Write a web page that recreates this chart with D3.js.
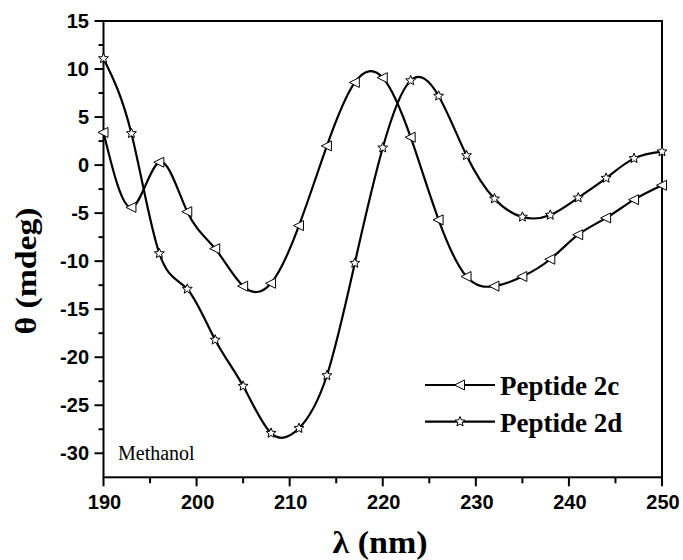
<!DOCTYPE html>
<html>
<head>
<meta charset="utf-8">
<script src="https://cdn.jsdelivr.net/npm/d3@7/dist/d3.min.js"></script>
<style>
  html, body { margin: 0; padding: 0; background: #fff; }
  svg { display: block; }
</style>
</head>
<body>
<svg id="chart" width="683" height="560"></svg>
<script>
// ---- data ----
const wavelengths = [190,193,196,199,202,205,208,211,214,217,220,223,226,229,232,235,238,241,244,247,250];
const peptide2c = [3.4,-4.4,0.3,-4.85,-8.7,-12.6,-12.3,-6.3,2.0,8.6,9.1,2.9,-5.7,-11.6,-12.6,-11.6,-9.8,-7.25,-5.5,-3.6,-2.1];
const peptide2d = [11.1,3.3,-9.2,-12.9,-18.2,-23.0,-27.9,-27.4,-21.9,-10.2,1.8,8.8,7.2,1.0,-3.5,-5.4,-5.2,-3.4,-1.35,0.7,1.4];
const seriesNames = ["Peptide 2c","Peptide 2d"];
const xTicks = [190,200,210,220,230,240,250];
const yTicks = [-30,-25,-20,-15,-10,-5,0,5,10,15];
const xLabel = "λ (nm)";
const yLabel = "θ (mdeg)";
const note = "Methanol";

// ---- layout ----
const svg = d3.select("#chart");
const L = 103.5, R = 662, T = 21, B = 477.3;
const x = d3.scaleLinear().domain([190,250]).range([L,R]);
const y = d3.scaleLinear().domain([-32.5,15]).range([B,T]);

// frame
svg.append("rect").attr("x",L).attr("y",T).attr("width",R-L).attr("height",B-T)
  .attr("fill","none").attr("stroke","#000").attr("stroke-width",2);

// x axis ticks
const xMinor = d3.range(195,250,10);
const gx = svg.append("g");
gx.selectAll("line.maj").data(xTicks).join("line")
  .attr("x1",d=>x(d)).attr("x2",d=>x(d)).attr("y1",B).attr("y2",B+9)
  .attr("stroke","#000").attr("stroke-width",2);
gx.selectAll("line.min").data(xMinor).join("line")
  .attr("x1",d=>x(d)).attr("x2",d=>x(d)).attr("y1",B).attr("y2",B+6)
  .attr("stroke","#000").attr("stroke-width",2);
gx.selectAll("text").data(xTicks).join("text")
  .attr("x",d=>x(d)+1).attr("y",508.5).attr("text-anchor","middle")
  .attr("font-family","'Liberation Sans', Arial, sans-serif").attr("font-weight","bold")
  .attr("font-size",20).text(d=>d);

// y axis ticks
const yMinor = d3.range(-27.5,15,5);
const gy = svg.append("g");
gy.selectAll("line.maj").data(yTicks).join("line")
  .attr("x1",L-9).attr("x2",L).attr("y1",d=>y(d)).attr("y2",d=>y(d))
  .attr("stroke","#000").attr("stroke-width",2);
gy.selectAll("line.min").data(yMinor).join("line")
  .attr("x1",L-5).attr("x2",L).attr("y1",d=>y(d)).attr("y2",d=>y(d))
  .attr("stroke","#000").attr("stroke-width",2);
gy.selectAll("text").data(yTicks).join("text")
  .attr("x",89).attr("y",d=>y(d)+7).attr("text-anchor","end")
  .attr("font-family","'Liberation Sans', Arial, sans-serif").attr("font-weight","bold")
  .attr("font-size",20).text(d=>d);

// axis titles
svg.append("text").attr("x",380).attr("y",553).attr("text-anchor","middle")
  .attr("font-family","'Liberation Serif', 'Times New Roman', serif").attr("font-weight","bold")
  .attr("font-size",31).attr("textLength",95).attr("lengthAdjust","spacingAndGlyphs").text(xLabel);
svg.append("text").attr("transform","translate(36,271) rotate(-90)").attr("text-anchor","middle")
  .attr("font-family","'Liberation Serif', 'Times New Roman', serif").attr("font-weight","bold")
  .attr("font-size",30).attr("textLength",127).attr("lengthAdjust","spacingAndGlyphs").text(yLabel);

// note
svg.append("text").attr("x",118).attr("y",459.5)
  .attr("font-family","'Liberation Serif', 'Times New Roman', serif")
  .attr("font-size",20).text(note);

// marker paths
const triPath = "M-5.5,0L4.5,-5L4.5,5Z";
function starPath(ro, ri){
  let p = [];
  for (let i=0;i<10;i++){
    const r = i%2===0 ? ro : ri;
    const a = -Math.PI/2 + i*Math.PI/5;
    p.push([r*Math.cos(a), r*Math.sin(a)]);
  }
  return "M" + p.map(q=>q[0].toFixed(2)+","+q[1].toFixed(2)).join("L") + "Z";
}
const stPath = starPath(5.2, 2.3);

const line = d3.line().x(d=>x(d[0])).y(d=>y(d[1])).curve(d3.curveNatural);
const series = [
  {name: seriesNames[0], vals: peptide2c, marker: triPath},
  {name: seriesNames[1], vals: peptide2d, marker: stPath}
];

const clip = svg.append("clipPath").attr("id","clip").append("rect")
  .attr("x",L).attr("y",T).attr("width",R-L).attr("height",B-T);

series.forEach(s=>{
  const pts = wavelengths.map((w,i)=>[w,s.vals[i]]);
  svg.append("path").attr("d",line(pts)).attr("fill","none")
    .attr("stroke","#000").attr("stroke-width",2.2).attr("clip-path","url(#clip)");
});
series.forEach(s=>{
  const pts = wavelengths.map((w,i)=>[w,s.vals[i]]);
  svg.append("g").selectAll("path").data(pts).join("path")
    .attr("d",s.marker).attr("transform",d=>`translate(${x(d[0])},${y(d[1])})`)
    .attr("fill","#fff").attr("stroke","#000").attr("stroke-width",1);
});

// legend
const legY = [385, 421.7];
series.forEach((s,i)=>{
  const g = svg.append("g");
  g.append("line").attr("x1",425).attr("x2",495).attr("y1",legY[i]).attr("y2",legY[i])
    .attr("stroke","#000").attr("stroke-width",2.2);
  g.append("path").attr("d",s.marker).attr("transform",`translate(460,${legY[i]})`)
    .attr("fill","#fff").attr("stroke","#000").attr("stroke-width",1);
  g.append("text").attr("x",500).attr("y",legY[i]+10)
    .attr("font-family","'Liberation Serif', 'Times New Roman', serif").attr("font-weight","bold")
    .attr("font-size",27).text(s.name);
});
</script>
</body>
</html>
